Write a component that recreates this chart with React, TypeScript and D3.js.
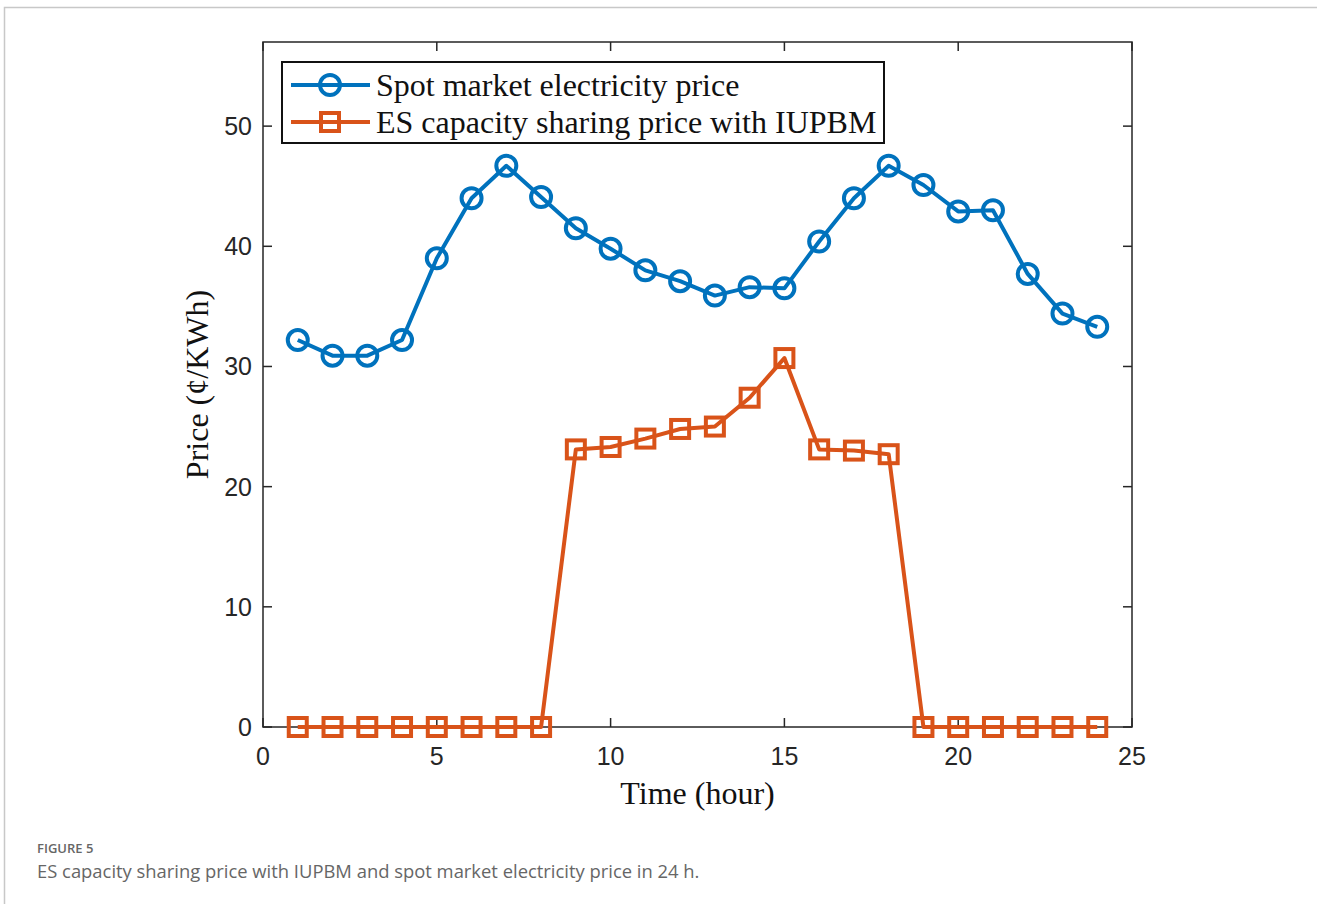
import React from "react";
import * as d3 from "d3";

// Hourly prices (¢/KWh)
const hours = [1, 2, 3, 4, 5, 6, 7, 8, 9, 10, 11, 12, 13, 14, 15, 16, 17, 18, 19, 20, 21, 22, 23, 24];
const spotPrice = [32.2, 30.9, 30.9, 32.2, 39.0, 44.0, 46.7, 44.1, 41.5, 39.8, 38.0, 37.1, 35.9, 36.6, 36.5, 40.4, 44.0, 46.7, 45.1, 42.9, 43.0, 37.7, 34.4, 33.3];
const sharingPrice = [0, 0, 0, 0, 0, 0, 0, 0, 23.1, 23.3, 24.0, 24.8, 25.0, 27.4, 30.7, 23.1, 23.0, 22.7, 0, 0, 0, 0, 0, 0];
const xTicks = [0, 5, 10, 15, 20, 25];
const yTicks = [0, 10, 20, 30, 40, 50];
const seriesNames = ["Spot market electricity price", "ES capacity sharing price with IUPBM"];

const BLUE = "#0072BD";
const ORANGE = "#D95319";

export default function App() {
  const W = 1317, H = 904;
  const left = 263, right = 1132, top = 42, bottom = 727;
  const x = d3.scaleLinear().domain([0, 25]).range([left, right]);
  const y = d3.scaleLinear().domain([0, 57]).range([bottom, top]);
  const line = d3.line<number>().x((_, i) => x(hours[i])).y((d) => y(d));
  const tickLen = 9;
  const serif = "'Liberation Serif', 'Times New Roman', serif";
  const sans = "'Liberation Sans', Arial, Helvetica, sans-serif";
  const axisColor = "#262626";

  const circle = (cx: number, cy: number, key: any) => (
    <circle key={key} cx={cx} cy={cy} r={10} fill="none" stroke={BLUE} strokeWidth={4} />
  );
  const square = (cx: number, cy: number, key: any) => (
    <rect key={key} x={cx - 9} y={cy - 9} width={18} height={18} fill="none" stroke={ORANGE} strokeWidth={4} />
  );

  const legX = 282, legY = 62, legW = 602, legH = 81;

  return (
    <svg width={W} height={H} style={{ position: "absolute", left: 0, top: 0, background: "#fff" }}>
      {/* outer frame */}
      <path d={`M4.5,${H} V7.5 H${W}`} fill="none" stroke="#c8c8c8" strokeWidth={1.5} />

      {/* axes box */}
      <rect x={left} y={top} width={right - left} height={bottom - top} fill="none" stroke={axisColor} strokeWidth={1.5} />

      {/* x ticks */}
      {xTicks.map((t) => (
        <g key={"xt" + t}>
          <line x1={x(t)} x2={x(t)} y1={bottom} y2={bottom - tickLen} stroke={axisColor} strokeWidth={1.5} />
          <line x1={x(t)} x2={x(t)} y1={top} y2={top + tickLen} stroke={axisColor} strokeWidth={1.5} />
          <text x={x(t)} y={bottom + 38} textAnchor="middle" fontFamily={sans} fontSize={25} fill="#262626">{t}</text>
        </g>
      ))}
      {/* y ticks */}
      {yTicks.map((t) => (
        <g key={"yt" + t}>
          <line x1={left} x2={left + tickLen} y1={y(t)} y2={y(t)} stroke={axisColor} strokeWidth={1.5} />
          <line x1={right} x2={right - tickLen} y1={y(t)} y2={y(t)} stroke={axisColor} strokeWidth={1.5} />
          <text x={left - 11} y={y(t) + 9} textAnchor="end" fontFamily={sans} fontSize={25} fill="#262626">{t}</text>
        </g>
      ))}

      {/* axis labels */}
      <text x={(left + right) / 2} y={804} textAnchor="middle" fontFamily={serif} fontSize={32} fill="#111">Time (hour)</text>
      <text transform={`translate(208,${(top + bottom) / 2}) rotate(-90)`} textAnchor="middle" fontFamily={serif} fontSize={32} fill="#111">Price (¢/KWh)</text>

      {/* series */}
      <path d={line(spotPrice) || ""} fill="none" stroke={BLUE} strokeWidth={4} strokeLinejoin="round" />
      {spotPrice.map((v, i) => circle(x(hours[i]), y(v), "c" + i))}
      <path d={line(sharingPrice) || ""} fill="none" stroke={ORANGE} strokeWidth={4} strokeLinejoin="round" />
      {sharingPrice.map((v, i) => square(x(hours[i]), y(v), "s" + i))}

      {/* legend */}
      <rect x={legX} y={legY} width={legW} height={legH} fill="#fff" stroke="#111" strokeWidth={2} />
      <line x1={291} x2={370} y1={85} y2={85} stroke={BLUE} strokeWidth={4} />
      {circle(330, 85, "lc")}
      <line x1={291} x2={370} y1={122} y2={122} stroke={ORANGE} strokeWidth={4} />
      {square(330, 122, "ls")}
      <text x={376} y={96} fontFamily={serif} fontSize={32} fill="#111">{seriesNames[0]}</text>
      <text x={376} y={133} fontFamily={serif} fontSize={32} fill="#111">{seriesNames[1]}</text>

      {/* caption */}
      <text x={37} y={853} fontFamily="'Open Sans', 'Noto Sans', sans-serif" fontSize={13} fontWeight={600} fill="#666">FIGURE 5</text>
      <text x={37} y={878} fontFamily="'Open Sans', 'Noto Sans', sans-serif" fontSize={18.4} fill="#666">ES capacity sharing price with IUPBM and spot market electricity price in 24 h.</text>
    </svg>
  );
}
